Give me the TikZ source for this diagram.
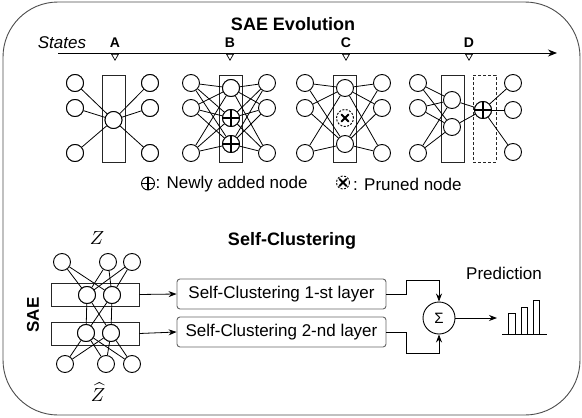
\documentclass[tikz,border=0pt]{standalone}
\usepackage{graphicx}
\usepackage{fontspec}
\setmainfont{Liberation Sans}
\usetikzlibrary{arrows.meta,shapes.geometric}
\newcommand\fsz[1]{\fontsize{#1}{#1}\selectfont}
\tikzset{
  neuron/.style={circle, draw, fill=white, minimum size=17pt, inner sep=0pt, line width=0.9pt},
  addnode/.style={neuron, path picture={\draw[line width=1.7pt] (path picture bounding box.north) -- (path picture bounding box.south) (path picture bounding box.west) -- (path picture bounding box.east);}},
  prunednode/.style={circle, draw, fill=white, minimum size=17pt, inner sep=0pt, line width=0.9pt, dash pattern=on 2pt off 1.5pt,
     path picture={\draw[line width=1.8pt, solid, line cap=round] ([shift={(-3.6pt,-3.6pt)}]path picture bounding box.center) -- ([shift={(3.6pt,3.6pt)}]path picture bounding box.center) ([shift={(-3.6pt,3.6pt)}]path picture bounding box.center) -- ([shift={(3.6pt,-3.6pt)}]path picture bounding box.center);}},
  layerbox/.style={draw=black!85, line width=0.9pt, minimum width=23pt, minimum height=87pt, inner sep=0pt},
  dashbox/.style={layerbox, dash pattern=on 3pt off 2pt},
  conn/.style={line width=0.8pt},
  marker/.style={regular polygon, regular polygon sides=3, shape border rotate=180, draw, fill=white, minimum size=8pt, inner sep=0pt, line width=0.7pt},
  stlabel/.style={font=\fsz{14}\bfseries},
  saebox/.style={draw=black!85, line width=0.9pt, minimum width=88pt, minimum height=23pt, inner sep=0pt},
  scbox/.style={draw=black!60, line width=0.9pt, rounded corners=3pt, minimum width=209pt, minimum height=30pt, inner sep=0pt, font=\fsz{17}},
  arr/.style={line width=0.8pt, -{Stealth[length=8pt,width=6pt]}},
  title/.style={font=\fsz{18}\bfseries},
}
\begin{document}
\begin{tikzpicture}[x=1pt,y=-1pt]
\useasboundingbox (0,0) rectangle (582,418);
% outer frame
\draw[draw=black!70, line width=0.9pt, rounded corners=55pt] (3,2) rectangle (580,415);

\node[title] (t1) at (293,24) {SAE Evolution};
\node[font=\fsz{17}\itshape] (states) at (62,43) {States};
\coordinate (ax0) at (58,53);
\coordinate (ax1) at (557,53);
\draw[line width=0.9pt, -{Stealth[length=9pt,width=7pt]}] (ax0) -- (ax1);
\foreach \n/\x in {A/115,B/230,C/346,D/469}{
  \node[marker] (m\n) at (\x,56.2) {};
  \node[stlabel] (l\n) at (\x,43) {\n};
}

% ---- Network A
\node[layerbox] (aBox) at (113.5,118.5) {};
\foreach \i/\y in {1/83,2/108,3/153}{
  \node[neuron] (aL\i) at (75,\y) {};
  \node[neuron] (aR\i) at (150,\y) {};
}
\node[neuron] (aM) at (113.5,120) {};
\foreach \i in {1,2,3}{
  \draw[conn] (aL\i) -- (aM);
  \draw[conn] (aM) -- (aR\i);
}
\foreach \i in {1,2,3}{\node[neuron] at (aL\i) {}; \node[neuron] at (aR\i) {};}
\node[neuron] at (aM) {};

% ---- Network B
\node[layerbox] (bBox) at (231,118.5) {};
\foreach \i/\y in {1/83,2/108,3/153}{
  \node[neuron] (bL\i) at (191,\y) {};
  \node[neuron] (bR\i) at (267,\y) {};
}
\node[neuron] (bM1) at (231,88) {};
\node[addnode] (bM2) at (231,118) {};
\node[addnode] (bM3) at (231,144) {};
\foreach \i in {1,2,3}{
  \foreach \j in {1,2,3}{
    \draw[conn] (bL\i) -- (bM\j);
    \draw[conn] (bM\j) -- (bR\i);
  }
}
\node[neuron] at (bM1) {};
\node[addnode] at (bM2) {};
\node[addnode] at (bM3) {};

% ---- Network C
\node[layerbox] (cBox) at (345,118.5) {};
\foreach \i/\y in {1/83,2/108,3/153}{
  \node[neuron] (cL\i) at (305,\y) {};
  \node[neuron] (cR\i) at (382,\y) {};
}
\node[neuron] (cM1) at (345,88) {};
\node[prunednode] (cM2) at (345,118) {};
\node[neuron] (cM3) at (345,144) {};
\foreach \i in {1,2,3}{
  \foreach \j in {1,3}{
    \draw[conn] (cL\i) -- (cM\j);
    \draw[conn] (cM\j) -- (cR\i);
  }
}

% ---- Network D
\node[layerbox] (dBox) at (452.5,118.5) {};
\node[dashbox] (dBox2) at (484.5,118.5) {};
\foreach \i/\y in {1/83,2/108,3/153}{
  \node[neuron] (dL\i) at (418,\y) {};
}
\node[neuron] (dR1) at (513,83) {};
\node[neuron] (dR2) at (513,110) {};
\node[neuron] (dR3) at (513,152) {};
\node[neuron] (dM1) at (452,100) {};
\node[neuron] (dM2) at (452,127) {};
\node[addnode] (dP) at (483,110) {};
\foreach \i in {1,2,3}{
  \foreach \j in {1,2}{
    \draw[conn] (dL\i) -- (dM\j);
  }
  \draw[conn] (dP) -- (dR\i);
}
\draw[conn] (dM1) -- (dP);
\draw[conn] (dM2) -- (dP);
\node[addnode] at (dP) {};

% ---- Legend
\node[addnode, minimum size=13pt] (legAdd) at (148,183.5) {};
\node[font=\fsz{17}, anchor=west, inner sep=0pt] (legAddT) at (155.5,184) {: Newly added node};
\node[prunednode, minimum size=13pt] (legPr) at (343,182.5) {};
\node[font=\fsz{17}, anchor=west, inner sep=0pt] (legPrT) at (353,184) {: Pruned node};

% ---- Self-clustering
\node[title] (t2) at (292,241) {Self-Clustering};
\node[inner sep=0pt] (zlab) at (97,238) {\scalebox{1.9}{$Z$}};
\node[inner sep=0pt] (zhat) at (98,392) {\scalebox{1.9}{$\widehat{Z}$}};
\node[font=\fsz{17}\bfseries, rotate=90] (sae) at (33,315) {SAE};

\node[saebox] (e) at (95,294.5) {};
\node[saebox] (d) at (95,333.5) {};
\node[neuron] (t1n) at (62,262) {};
\node[neuron] (t2n) at (108,262) {};
\node[neuron] (t3n) at (132,262) {};
\node[neuron] (e1) at (87,295) {};
\node[neuron] (e2) at (112,295) {};
\node[neuron] (d1) at (86,333) {};
\node[neuron] (d2) at (111,333) {};
\node[neuron] (b1) at (65,364) {};
\node[neuron] (b2) at (106,364) {};
\node[neuron] (b3) at (132,364) {};
\foreach \t in {t1n,t2n,t3n}{
  \draw[conn] (\t) -- (e1); \draw[conn] (\t) -- (e2);
}
\foreach \b in {b1,b2,b3}{
  \draw[conn] (d1) -- (\b); \draw[conn] (d2) -- (\b);
}
\draw[conn] (e1) -- (d1);
\draw[conn] (e2) -- (d2);
\draw[conn] (e1) -- (d2);
\draw[conn] (e2) -- (d1);
\foreach \n in {e1,e2,d1,d2}{\node[neuron] at (\n) {};}

\node[scbox] (sc1) at (281.5,294) {Self-Clustering 1-st layer};
\node[scbox] (sc2) at (281.5,332) {Self-Clustering 2-nd layer};
\draw[arr] (e.east) -- (sc1.west);
\draw[arr] (d.east) -- (sc2.west);

\node[circle, draw, line width=0.9pt, minimum size=32pt, inner sep=0pt, font=\fsz{15}] (sum) at (439,318) {Σ};
\draw[arr] (sc1.east) -- (406,294) -- (406,280) -| (sum.north);
\draw[arr] (sc2.east) -- (406,332) -- (406,353) -| (sum.south);
\coordinate (pred) at (497,318);
\draw[arr] (sum) -- (pred);

\node[font=\fsz{17}] (predT) at (504,273) {Prediction};
\draw[line width=0.9pt] (508,334) -- (508,313) -- (515,313) -- (515,334);
\draw[line width=0.9pt] (521,334) -- (521,307) -- (527,307) -- (527,334);
\draw[line width=0.9pt] (533,334) -- (533,300) -- (539,300) -- (539,334);
\draw[line width=0.9pt] (502,334) -- (547,334);
\end{tikzpicture}
\end{document}
